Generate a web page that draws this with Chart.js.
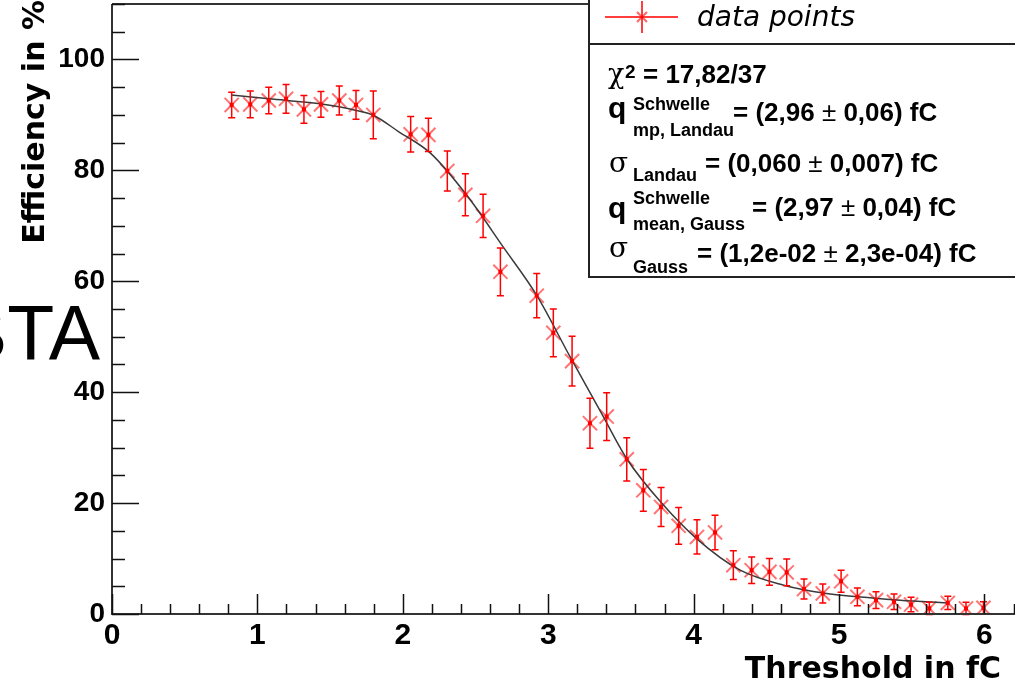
<!DOCTYPE html>
<html>
<head>
<meta charset="utf-8">
<script src="https://cdn.jsdelivr.net/npm/chart.js@4"></script>
<style>
  html, body { margin: 0; padding: 0; background: #fff; }
  canvas { display: block; }
</style>
</head>
<body>
<canvas id="chart" width="1015" height="682"></canvas>
<script>
// Threshold scan: efficiency vs threshold charge

const xValues = [0.823, 0.951, 1.078, 1.197, 1.320, 1.437, 1.563, 1.678, 1.797,
    2.054, 2.176, 2.306, 2.430, 2.552, 2.671,
    2.921, 3.035, 3.164, 3.287, 3.402, 3.540, 3.654, 3.776, 3.897, 4.023, 4.147,
    4.273, 4.399, 4.521, 4.640, 4.759, 4.888, 5.014, 5.126, 5.254, 5.378, 5.495,
    5.621, 5.748, 5.873, 5.993];
const effValues = [91.8, 91.9, 92.6, 92.9, 91.0, 91.9, 92.6, 91.8, 90.0,
    86.5, 86.4, 79.9, 75.6, 71.8, 61.7,
    57.4, 50.7, 45.6, 34.4, 35.6, 27.9, 22.3, 19.3, 15.9, 13.9, 14.7,
    8.8, 7.9, 7.6, 7.5, 4.5, 3.7, 5.9, 3.1, 2.5, 2.2, 1.7,
    1.0, 2.0, 1.0, 1.1];
const errValues = [2.3, 2.4, 2.4, 2.6, 2.5, 2.3, 2.6, 2.6, 4.3,
    3.2, 3.0, 3.6, 3.8, 3.9, 4.3,
    4.0, 4.3, 4.5, 4.5, 4.3, 3.9, 3.75, 3.5, 3.3, 3.1, 3.1,
    2.6, 2.4, 2.4, 2.4, 1.8, 1.7, 2.0, 1.6, 1.5, 1.4, 1.3,
    1.1, 1.2, 1.1, 1.1];

// fit curve
const fitX = [0.82, 1.08, 1.43, 1.68, 1.80, 1.97, 2.19, 2.44, 2.69, 2.92, 3.15,
    3.36, 3.54, 3.78, 4.02, 4.32, 4.62, 4.89, 5.23, 5.42, 5.74];
const fitY = [93.6, 92.9, 92.0, 90.8, 89.9, 87.0, 83.1, 75.5, 66.2, 57.5, 46.4,
    36.5, 28.0, 20.0, 13.6, 7.9, 5.2, 3.8, 2.9, 2.5, 2.0];

const xTickValues = [0, 1, 2, 3, 4, 5, 6];
const yTickValues = [0, 20, 40, 60, 80, 100];
const xMinorStep = 0.2;
const yMinorStep = 5;

const RED = '#ff0000';

// vertical error bars with small caps
const errorBarPlugin = {
    id: 'errorBars',
    afterDatasetsDraw(chart) {
        const { ctx, scales: { x, y } } = chart;
        ctx.save();
        ctx.strokeStyle = RED;
        ctx.fillStyle = RED;
        ctx.lineWidth = 1.5;
        xValues.forEach((xv, i) => {
            const px = x.getPixelForValue(xv);
            const top = y.getPixelForValue(effValues[i] + errValues[i]);
            const bot = y.getPixelForValue(effValues[i] - errValues[i]);
            const py = y.getPixelForValue(effValues[i]);
            ctx.beginPath();
            ctx.moveTo(px, top); ctx.lineTo(px, bot);
            ctx.moveTo(px - 3.5, top); ctx.lineTo(px + 3.5, top);
            ctx.moveTo(px - 3.5, bot); ctx.lineTo(px + 3.5, bot);
            ctx.stroke();
            ctx.fillRect(px - 2, py - 2, 4, 4);
        });
        ctx.restore();
    }
};

// ROOT style frame with inward ticks
const frameAxesPlugin = {
    id: 'frameAxes',
    afterDraw(chart) {
        const { ctx, chartArea: a, scales: { x, y } } = chart;
        ctx.save();
        ctx.strokeStyle = '#333';
        ctx.lineWidth = 2;
        ctx.beginPath();
        ctx.moveTo(a.left, a.top); ctx.lineTo(a.right, a.top);
        ctx.moveTo(a.left, a.top); ctx.lineTo(a.left, a.bottom);
        ctx.lineTo(a.right, a.bottom);
        ctx.stroke();

        ctx.strokeStyle = '#111';
        ctx.lineWidth = 1.5;
        ctx.beginPath();
        for (let v = 0; v <= x.max + 1e-6; v += xMinorStep) {
            const px = Math.round(x.getPixelForValue(v)) + 0.5;
            const major = Math.abs(v - Math.round(v)) < 1e-6;
            ctx.moveTo(px, a.bottom);
            ctx.lineTo(px, a.bottom - (major ? 20 : 10));
        }
        for (let v = 0; v <= y.max + 1e-6; v += yMinorStep) {
            const py = Math.round(y.getPixelForValue(v)) + 0.5;
            const major = v % 20 === 0;
            ctx.moveTo(a.left, py);
            ctx.lineTo(a.left + (major ? 27 : 13), py);
        }
        ctx.stroke();
        ctx.restore();
    }
};

function drawParts(ctx, x, y, parts) {
    parts.forEach(p => {
        ctx.font = p.font;
        ctx.fillText(p.text, x, y + (p.dy || 0));
        x += ctx.measureText(p.text).width;
    });
    return x;
}

const B26 = 'bold 26px "Liberation Sans", Arial, sans-serif';
const N26 = '26px "Liberation Sans", Arial, sans-serif';
const B18 = 'bold 18px "Liberation Sans", Arial, sans-serif';

function valueParts(a, b) {
    return [
        { text: '= (' + a + ' ', font: B26 },
        { text: '±', font: N26 },
        { text: ' ' + b + ') fC', font: B26 }
    ];
}

// legend box, fit results, axis titles
const overlayPlugin = {
    id: 'overlay',
    afterDraw(chart) {
        const ctx = chart.ctx;
        ctx.save();

        // stray label at left
        ctx.fillStyle = '#000';
        ctx.textBaseline = 'alphabetic';
        ctx.font = '77px "Liberation Sans", Arial, sans-serif';
        ctx.fillText('BTA', -44, 360);

        // axis titles
        ctx.font = 'bold 30px "DejaVu Sans", sans-serif';
        ctx.textAlign = 'right';
        ctx.fillText('Threshold in fC', 1001, 678);
        ctx.save();
        ctx.translate(44, 0);
        ctx.rotate(-Math.PI / 2);
        ctx.fillText('Efficiency in %', 0, 0);
        ctx.restore();
        ctx.textAlign = 'left';

        // stats / legend box
        ctx.fillStyle = '#fff';
        ctx.fillRect(589, -2, 430, 279);
        ctx.strokeStyle = '#222';
        ctx.lineWidth = 2;
        ctx.strokeRect(589, -2, 430, 279);
        ctx.beginPath();
        ctx.moveTo(589, 44); ctx.lineTo(1015, 44);
        ctx.stroke();

        ctx.strokeStyle = RED;
        ctx.lineWidth = 1.5;
        ctx.beginPath();
        ctx.moveTo(605, 17); ctx.lineTo(678, 17);
        ctx.moveTo(642, 1); ctx.lineTo(642, 33);
        ctx.stroke();
        ctx.strokeStyle = 'rgba(255,0,0,0.6)';
        ctx.lineWidth = 2;
        ctx.beginPath();
        ctx.moveTo(637, 12); ctx.lineTo(647, 22);
        ctx.moveTo(647, 12); ctx.lineTo(637, 22);
        ctx.stroke();

        ctx.fillStyle = '#000';
        ctx.font = 'italic 28px "DejaVu Sans", sans-serif';
        ctx.fillText('data points', 697, 26);

        // chi2 line
        drawParts(ctx, 608, 83, [{ text: 'χ', font: '27px "DejaVu Serif", serif' }]);
        drawParts(ctx, 625, 78, [{ text: '2', font: 'bold 19px "Liberation Sans", Arial, sans-serif' }]);
        drawParts(ctx, 643, 83, [{ text: '= 17,82/37', font: B26 }]);

        // q mp, Landau
        drawParts(ctx, 608, 118, [{ text: 'q', font: 'bold 30px "Liberation Sans", Arial, sans-serif' }]);
        drawParts(ctx, 633, 110, [{ text: 'Schwelle', font: B18 }]);
        drawParts(ctx, 633, 136, [{ text: 'mp, Landau', font: B18 }]);
        drawParts(ctx, 733, 121, valueParts('2,96', '0,06'));

        // sigma Landau
        drawParts(ctx, 609, 172, [{ text: 'σ', font: '28px "DejaVu Serif", serif' }]);
        drawParts(ctx, 633, 181, [{ text: 'Landau', font: B18 }]);
        drawParts(ctx, 705, 172, valueParts('0,060', '0,007'));

        // q mean, Gauss
        drawParts(ctx, 608, 218, [{ text: 'q', font: 'bold 30px "Liberation Sans", Arial, sans-serif' }]);
        drawParts(ctx, 633, 204, [{ text: 'Schwelle', font: B18 }]);
        drawParts(ctx, 633, 230, [{ text: 'mean, Gauss', font: B18 }]);
        drawParts(ctx, 752, 216, valueParts('2,97', '0,04'));

        // sigma Gauss
        drawParts(ctx, 609, 257, [{ text: 'σ', font: '28px "DejaVu Serif", serif' }]);
        drawParts(ctx, 633, 273, [{ text: 'Gauss', font: B18 }]);
        drawParts(ctx, 697, 262, valueParts('1,2e-02', '2,3e-04'));

        ctx.restore();
    }
};

const tickFont = { family: '"Liberation Sans", Arial, sans-serif', weight: 'bold' };

function noPadding(s) {
    s.paddingTop = 0;
    s.paddingBottom = 0;
    s.paddingLeft = 0;
    s.paddingRight = 0;
}

new Chart(document.getElementById('chart'), {
    type: 'scatter',
    data: {
        datasets: [
            {
                type: 'line',
                label: 'fit',
                data: fitX.map((xv, i) => ({ x: xv, y: fitY[i] })),
                borderColor: '#3a3a3a',
                borderWidth: 1.5,
                pointRadius: 0,
                fill: false,
                cubicInterpolationMode: 'monotone'
            },
            {
                label: 'data points',
                data: xValues.map((xv, i) => ({ x: xv, y: effValues[i] })),
                showLine: false,
                pointStyle: 'crossRot',
                pointRadius: 10,
                borderColor: 'rgba(255, 0, 0, 0.55)',
                backgroundColor: 'transparent',
                borderWidth: 2
            }
        ]
    },
    options: {
        responsive: false,
        animation: false,
        layout: { autoPadding: false, padding: { top: 4, left: 0, right: 0, bottom: 0 } },
        plugins: {
            legend: { display: false },
            tooltip: { enabled: false }
        },
        scales: {
            x: {
                type: 'linear',
                min: 0,
                max: 6.21,
                grid: { display: false, drawTicks: false, tickLength: 0 },
                border: { display: false },
                afterBuildTicks: s => { s.ticks = xTickValues.map(v => ({ value: v })); },
                afterFit: s => { s.height = 68; noPadding(s); },
                ticks: {
                    color: '#000',
                    padding: 4,
                    maxRotation: 0,
                    autoSkip: false,
                    font: { ...tickFont, size: 30 }
                }
            },
            y: {
                min: 0,
                max: 110,
                grid: { display: false, drawTicks: false, tickLength: 0 },
                border: { display: false },
                afterBuildTicks: s => { s.ticks = yTickValues.map(v => ({ value: v })); },
                afterFit: s => { s.width = 112; noPadding(s); },
                ticks: {
                    color: '#000',
                    padding: 7,
                    font: { ...tickFont, size: 28 }
                }
            }
        }
    },
    plugins: [frameAxesPlugin, errorBarPlugin, overlayPlugin]
});
</script>
</body>
</html>
